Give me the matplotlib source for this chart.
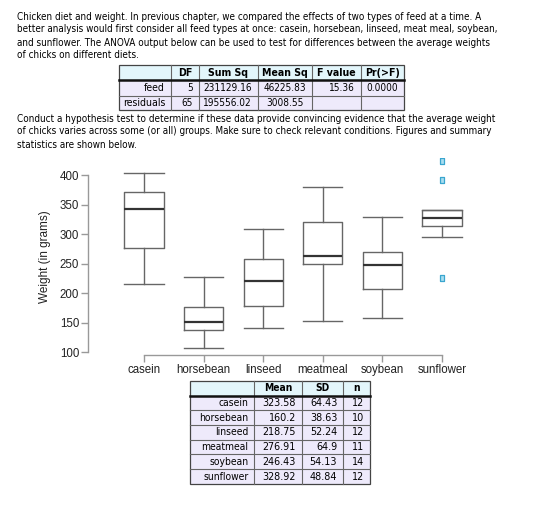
import matplotlib
matplotlib.use("Agg")
import matplotlib.pyplot as plt
from matplotlib.patches import Rectangle

# ---- data ----
intro = ["Chicken diet and weight. In previous chapter, we compared the effects of two types of feed at a time. A",
         "better analysis would first consider all feed types at once: casein, horsebean, linseed, meat meal, soybean,",
         "and sunflower. The ANOVA output below can be used to test for differences between the average weights",
         "of chicks on different diets."]
question = ["Conduct a hypothesis test to determine if these data provide convincing evidence that the average weight",
            "of chicks varies across some (or all) groups. Make sure to check relevant conditions. Figures and summary",
            "statistics are shown below."]

anova_cols = ["", "DF", "Sum Sq", "Mean Sq", "F value", "Pr(>F)"]
anova_rows = [["feed", "5", "231129.16", "46225.83", "15.36", "0.0000"],
              ["residuals", "65", "195556.02", "3008.55", "", ""]]

feeds = ["casein", "horsebean", "linseed", "meatmeal", "soybean", "sunflower"]
# five-number summaries (low whisker, Q1, median, Q3, high whisker)
whislo = [216, 108, 141, 153, 158, 295]
q1 = [277, 137, 179, 250, 207, 313]
med = [342, 152, 221, 263, 248, 328]
q3 = [371, 177, 258, 320, 270, 341]
whishi = [404, 227, 309, 380, 329, 341]
outliers = [[], [], [], [], [], [423, 392, 226]]

stat_cols = ["", "Mean", "SD", "n"]
means = ["323.58", "160.2", "218.75", "276.91", "246.43", "328.92"]
sds = ["64.43", "38.63", "52.24", "64.9", "54.13", "48.84"]
ns = ["12", "10", "12", "11", "14", "12"]

W, H = 560, 505
fig = plt.figure(figsize=(W / 100, H / 100), dpi=100)
bg = fig.add_axes([0, 0, 1, 1])
bg.set_xlim(0, W)
bg.set_ylim(H, 0)
bg.axis("off")

body = dict(family="DejaVu Sans", fontstretch="condensed", fontsize=7.1,
            color="#000000", va="baseline")
for i, line in enumerate(intro):
    bg.text(17, 19.5 + 13 * i, line, **body)
for i, line in enumerate(question):
    bg.text(17, 121.5 + 13 * i, line, **body)


def draw_table(x_edges, y_edges, header, rows, aligns, size, num_size, num_stretch):
    # header + body backgrounds
    bg.add_patch(Rectangle((x_edges[0], y_edges[0]), x_edges[-1] - x_edges[0],
                           y_edges[1] - y_edges[0], fc="#e3f6fb", ec="none"))
    bg.add_patch(Rectangle((x_edges[0], y_edges[1]), x_edges[-1] - x_edges[0],
                           y_edges[-1] - y_edges[1], fc="#eeeafb", ec="none"))
    for x in x_edges[1:-1]:
        bg.plot([x, x], [y_edges[0], y_edges[-1]], color="#666666", lw=0.8)
    for y in y_edges[2:-1]:
        bg.plot([x_edges[0], x_edges[-1]], [y, y], color="#666666", lw=0.8)
    bg.plot([x_edges[0], x_edges[-1]], [y_edges[1], y_edges[1]], color="#111111", lw=1.8)
    bg.add_patch(Rectangle((x_edges[0], y_edges[0]), x_edges[-1] - x_edges[0],
                           y_edges[-1] - y_edges[0], fc="none", ec="#444444", lw=0.9))
    cell = dict(family="DejaVu Sans", color="#000000", va="center")
    for j, h in enumerate(header):
        xc = (x_edges[j] + x_edges[j + 1]) / 2
        bg.text(xc, (y_edges[0] + y_edges[1]) / 2, h, ha="center", weight="bold",
                fontsize=size, fontstretch="condensed", **cell)
    for i, row in enumerate(rows):
        yc = (y_edges[i + 1] + y_edges[i + 2]) / 2
        for j, v in enumerate(row):
            if j == 0:
                fs, st = size, "condensed"
            else:
                fs, st = num_size, num_stretch
            if aligns[j] == "right":
                bg.text(x_edges[j + 1] - 6, yc, v, ha="right", fontsize=fs, fontstretch=st, **cell)
            else:
                bg.text((x_edges[j] + x_edges[j + 1]) / 2, yc, v, ha="center",
                        fontsize=fs, fontstretch=st, **cell)


draw_table([119, 171, 199, 257.7, 311.7, 361, 404.3], [65.3, 80.3, 95.7, 110],
           anova_cols, anova_rows, ["right", "right", "right", "center", "right", "right"],
           7.6, 7.2, "condensed")

stat_rows = [[f, m, s, n] for f, m, s, n in zip(feeds, means, sds, ns)]
draw_table([190, 254.3, 301.7, 343.3, 370], [381, 395.7, 410.3, 425, 439.7, 454.3, 469, 484],
           stat_cols, stat_rows, ["right", "right", "right", "right"],
           7.4, 6.9, "normal")

# ---- boxplot ----
ax_l, ax_r, ax_t, ax_b = 88.3, 470, 158, 355
ax = fig.add_axes([ax_l / W, 1 - ax_b / H, (ax_r - ax_l) / W, (ax_b - ax_t) / H])
ax.patch.set_alpha(0)
stats = [dict(whislo=a, q1=b, med=c, q3=d, whishi=e, fliers=f, label=lab)
         for a, b, c, d, e, f, lab in zip(whislo, q1, med, q3, whishi, outliers, feeds)]
box_c = "#666666"
tall_rect = [(-0.55, -1), (0.55, -1), (0.55, 1), (-0.55, 1), (-0.55, -1)]
ax.bxp(stats, positions=range(1, 7), widths=0.66,
       boxprops=dict(color=box_c, lw=1.0),
       whiskerprops=dict(color=box_c, lw=1.0, ls="-"),
       capprops=dict(color=box_c, lw=1.0),
       medianprops=dict(color="#333333", lw=1.6),
       flierprops=dict(marker=tall_rect, markersize=4.5, markerfacecolor="#a9def0",
                       markeredgecolor="#3aa6cf", markeredgewidth=0.9, ls="none"),
       capwidths=0.66)
ax.set_xlim(0.065, 6.47)
ax.set_ylim(95.4, 428.8)
ax.set_yticks([100, 150, 200, 250, 300, 350, 400])
for s in ["top", "right"]:
    ax.spines[s].set_visible(False)
ax.spines["left"].set_bounds(100, 400)
ax.spines["bottom"].set_bounds(1, 6)
for s in ["left", "bottom"]:
    ax.spines[s].set_color("#999999")
    ax.spines[s].set_linewidth(1.0)
ax.tick_params(axis="both", direction="out", length=5, width=1.0, color="#999999",
               labelcolor="#222222", labelsize=8.3, pad=1.5)
for lab in ax.get_xticklabels() + ax.get_yticklabels():
    lab.set_family("Liberation Sans")
ax.set_ylabel("Weight (in grams)", family="Liberation Sans", fontsize=8.5, color="#222222", labelpad=6)

fig.savefig("out.png", dpi=100)
